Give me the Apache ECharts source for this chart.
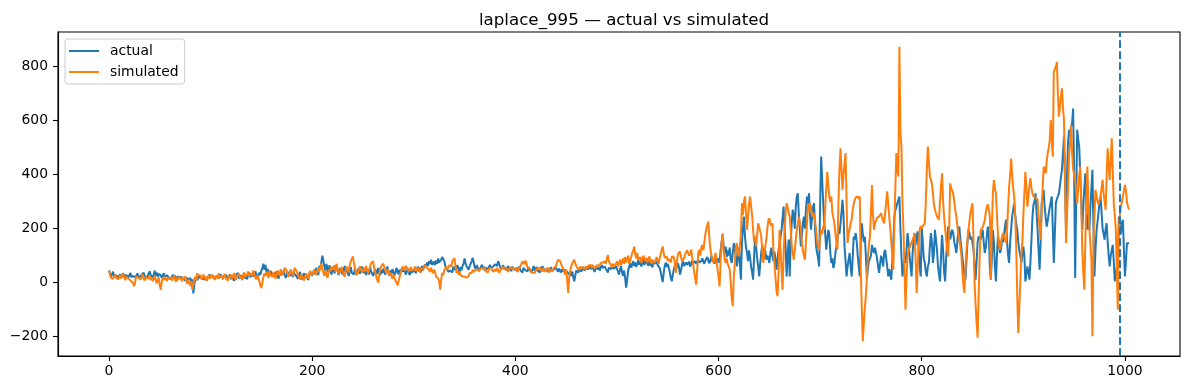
<!DOCTYPE html>
<html>
<head>
<meta charset="utf-8">
<script src="https://cdn.jsdelivr.net/npm/echarts@6/dist/echarts.min.js"></script>
<style>html,body{margin:0;padding:0;background:#fff}#c{width:1189px;height:390px}</style>
</head>
<body>
<div id="c"></div>
<script>
const titleText = "laplace_995 \u2014 actual vs simulated";
const seriesNames = ["actual", "simulated"];
const xTicks = [0, 200, 400, 600, 800, 1000];
const yTicks = [-200, 0, 200, 400, 600, 800];
const cutoff = 995;

const actual = [
45,38,22,30,41,25,18,27,33,20,
24,31,19,26,35,22,17,29,24,18,
27,36,21,15,25,30,19,23,34,28,
16,22,29,24,37,26,18,12,25,31,
42,28,35,20,30,44,26,38,22,33,
40,27,18,24,35,21,16,28,23,19,
25,14,22,30,17,26,20,11,24,19,
15,23,28,12,20,6,18,24,13,9,
17,4,12,-40,-5,15,22,10,28,18,
14,20,26,11,19,25,8,17,23,30,
21,15,26,33,18,12,24,29,16,22,
31,19,14,25,20,28,35,17,23,30,
13,26,21,7,18,29,24,36,15,20,
27,10,22,33,19,25,14,30,38,21,
17,28,35,23,42,30,18,26,37,29,
45,55,70,48,66,40,52,35,28,44,
38,25,33,20,30,42,24,15,36,28,
22,35,45,30,18,27,40,33,24,48,
30,21,38,45,26,32,15,28,40,22,
12,26,35,18,30,24,10,28,42,33,
25,38,46,30,55,40,28,62,48,75,
100,82,60,45,70,52,38,65,44,30,
48,58,35,42,60,50,28,45,55,38,
30,47,62,40,52,35,25,44,58,36,
42,30,50,38,28,46,55,33,40,60,
45,35,52,28,40,48,30,56,42,36,
25,38,50,44,32,55,40,28,46,35,
52,42,30,48,60,38,26,45,33,50,
40,28,36,55,44,30,48,38,52,42,
35,46,30,42,50,38,28,44,36,48,
40,52,35,48,60,42,55,38,62,45,
50,68,58,75,62,80,70,85,66,72,
78,65,82,70,90,75,68,85,95,100,
80,62,55,48,40,35,45,52,38,60,
48,42,55,65,50,40,58,46,62,70,
90,72,60,55,48,62,70,80,92,75,
58,50,65,55,62,48,58,66,52,60,
45,55,62,50,58,66,52,48,60,55,
68,75,62,80,70,58,48,55,65,50,
58,45,52,62,48,56,42,60,50,55,
48,56,40,52,60,45,50,38,55,62,
46,52,42,58,48,55,40,50,62,45,
52,58,44,50,38,55,48,60,42,50,
56,45,52,40,48,58,42,36,50,44,
55,48,40,52,45,38,50,42,35,48,
55,40,45,30,38,25,42,20,5,28,
45,52,38,48,55,42,50,58,44,52,
60,48,55,62,50,45,58,52,40,55,
62,50,58,45,52,66,55,48,60,52,
45,38,55,62,50,58,65,52,48,60,
55,42,30,48,62,38,25,45,20,-18,
10,45,60,72,55,68,80,62,75,58,
70,85,66,78,60,72,88,65,75,92,
70,62,80,68,75,58,82,70,64,78,
66,72,55,40,20,2,35,62,75,58,
70,55,40,18,5,30,50,65,48,60,
72,58,30,45,68,80,62,55,75,66,
70,78,60,68,82,72,65,80,70,74,
85,75,68,80,90,78,70,82,88,95,
80,72,85,100,78,88,70,82,92,76,
90,73,120,150,177,140,110,134,95,120,
100,130,85,73,110,147,125,100,60,90,
130,70,11,150,200,245,171,130,110,80,
120,95,60,40,11,100,171,130,90,60,
23,70,110,140,110,95,120,85,100,90,
73,110,130,100,80,115,90,48,80,120,
140,170,196,240,282,200,130,23,100,160,
23,150,220,270,250,200,280,319,331,250,
196,134,180,220,245,200,270,319,290,331,
250,196,240,280,294,200,134,110,90,60,
300,467,380,294,220,180,122,160,196,180,
110,73,90,54,70,110,134,160,196,180,
220,260,307,250,134,80,23,60,85,110,
60,23,90,171,160,184,150,100,60,23,
150,220,180,150,171,100,17,50,80,73,
100,140,122,110,130,134,90,60,36,70,
100,85,60,110,122,90,60,23,50,30,
11,80,150,245,270,280,294,300,319,200,
100,23,50,90,73,120,184,150,100,60,
23,110,160,184,140,171,190,120,60,23,
202,150,90,73,40,23,60,73,134,184,
150,73,110,196,160,122,60,30,5,100,
176,120,40,5,90,150,208,196,160,180,
196,184,150,134,110,150,190,208,160,130,
97,60,30,11,80,150,196,180,160,171,
171,120,60,11,80,150,171,171,160,180,
196,150,110,130,170,208,180,60,11,90,
196,150,60,5,100,171,150,110,122,160,
150,180,210,233,150,100,73,150,200,245,
270,294,250,220,196,150,120,100,73,100,
134,100,5,30,60,40,11,80,160,245,
290,300,331,260,196,120,48,150,294,320,
344,280,240,208,230,257,280,300,319,200,
73,180,294,310,320,331,360,390,418,480,
541,380,196,400,520,566,540,580,590,645,
400,17,300,566,530,504,400,300,196,280,
350,405,300,196,250,196,280,350,418,200,
23,120,190,196,260,300,319,260,200,180,
159,200,220,150,100,60,100,120,140,80,
5,30,60,73,245,200,180,220,233,120,
23,80,146,140,146
];

const simulated = [
45,30,18,25,14,22,30,19,26,12,
20,28,16,24,33,18,10,22,27,15,
21,8,14,2,-5,-13,10,24,30,18,
25,12,20,32,16,8,22,28,14,19,
26,10,18,5,15,24,12,-3,8,20,
-10,-26,5,18,10,22,14,6,19,25,
12,20,8,16,26,14,3,18,10,22,
28,15,5,20,12,24,8,-5,10,2,
-12,6,-26,-8,14,22,10,35,25,18,
28,12,20,30,15,24,8,18,26,14,
22,30,16,25,10,20,28,14,35,22,
18,26,12,24,32,15,22,8,28,20,
30,14,24,36,18,10,26,20,32,16,
24,12,28,38,22,15,30,42,25,18,
34,26,45,30,20,12,28,16,5,-10,
-20,0,22,35,25,40,30,18,45,28,
35,22,40,30,15,28,45,38,25,50,
36,28,42,55,60,45,30,22,38,48,
35,25,42,55,62,40,28,20,12,30,
25,18,8,22,35,28,15,30,44,26,
20,35,50,38,28,42,55,40,60,70,
52,38,25,45,30,18,35,50,42,60,
48,55,65,40,70,52,35,28,45,58,
40,30,22,45,60,50,38,65,80,88,
97,75,55,40,30,23,45,60,52,38,
45,55,40,62,50,35,48,60,72,79,
80,55,40,25,10,0,30,50,62,55,
70,58,45,35,50,42,30,38,25,15,
30,18,8,0,-10,5,20,35,48,60,
55,45,62,60,52,40,48,58,45,52,
48,60,42,35,55,48,38,52,45,48,
58,66,73,55,62,48,40,55,48,35,
48,40,23,30,15,5,-26,12,36,28,
45,52,60,48,55,65,72,60,80,85,
91,65,36,45,30,40,28,35,23,18,
23,30,18,11,25,36,42,36,48,40,
45,48,55,50,42,48,54,48,52,45,
55,42,48,38,52,45,55,48,40,45,
50,42,55,48,36,44,52,46,58,50,
45,55,48,40,52,46,58,50,44,52,
45,52,40,48,54,62,70,79,75,68,
82,70,55,48,52,40,45,38,42,36,
44,52,48,55,60,50,42,55,48,40,
48,42,55,38,45,50,40,42,55,48,
62,75,85,91,80,73,60,52,48,30,
48,10,-38,20,45,60,72,78,85,70,
62,55,48,54,60,52,45,58,48,55,
60,52,64,58,66,55,66,60,52,58,
65,70,62,60,72,68,75,80,79,70,
88,103,80,72,65,58,70,62,55,68,
80,60,72,85,65,78,90,70,95,75,
88,100,70,82,95,110,120,134,105,90,
110,85,78,95,73,88,100,97,80,92,
75,88,97,80,70,85,92,73,82,95,
85,70,90,105,120,134,110,92,85,97,
80,88,85,75,97,90,95,70,36,80,
105,100,116,95,80,73,90,105,110,120,
116,100,110,122,95,70,40,15,-7,50,
110,122,100,130,140,120,147,180,200,215,
226,160,122,100,85,73,90,110,80,48,
20,-14,80,150,183,120,85,73,90,70,
60,48,0,-60,-87,20,73,134,147,110,
97,97,180,294,250,300,319,260,196,240,
290,319,319,250,196,150,171,134,180,220,
220,190,171,120,73,100,134,160,200,230,
239,220,210,220,120,73,20,-30,-50,30,
196,120,48,-26,100,196,260,294,280,260,
245,200,134,110,85,120,160,196,220,245,
245,200,147,120,100,85,150,220,294,260,
294,280,245,260,250,245,200,150,130,122,
170,196,180,210,196,280,350,411,360,319,
300,319,260,240,220,180,150,122,300,420,
498,420,344,400,440,480,300,147,180,200,
220,233,270,290,307,315,319,320,310,319,
48,-100,-217,-150,-90,-50,20,97,140,171,
260,362,250,196,220,230,240,233,245,250,
257,240,230,220,260,300,338,290,245,200,
150,100,48,200,350,480,420,393,874,560,
504,300,196,50,-100,20,97,120,130,140,
147,160,170,184,80,-38,60,140,196,210,
200,210,215,220,300,420,504,450,393,380,
368,330,290,270,257,245,240,233,300,360,
405,300,245,200,160,120,97,200,368,350,
340,331,300,270,245,210,180,160,134,100,
40,-10,-38,50,120,160,196,230,260,280,
294,150,0,-80,-150,-204,-50,100,196,200,
205,208,230,260,280,290,294,250,11,200,
330,380,350,331,250,180,140,122,150,170,
184,170,160,147,200,280,356,400,460,400,
350,319,250,134,-50,-186,-186,0,100,147,
250,330,411,350,282,320,360,387,350,330,
320,319,315,310,307,250,200,159,250,350,
430,420,405,450,480,500,529,602,520,467,
781,790,800,818,700,615,650,690,720,650,
602,400,147,250,350,467,520,584,480,420,
400,381,340,294,350,400,430,300,122,40,
-26,150,300,430,300,200,140,85,-198,147,
250,344,320,300,290,294,320,350,381,330,
300,270,400,498,440,381,450,535,420,294,
250,196,50,-100,196,250,280,300,319,340,
362,340,300,282,270
];

const allVals = actual.concat(simulated);
const dMax = Math.max.apply(null, allVals), dMin = Math.min.apply(null, allVals);
const yPad = (dMax - dMin) * 0.05;
const nLast = Math.max(actual.length, simulated.length) - 1;
const xPad = nLast * 0.05;

const FONT = "DejaVu Sans";
const chart = echarts.init(document.getElementById('c'), null, {renderer: 'canvas'});
const minusFmt = v => String(v).replace('-', '\u2212');

chart.setOption({
  animation: false,
  backgroundColor: '#fff',
  title: {
    text: titleText, left: 619, top: 7, textAlign: 'center',
    textStyle: {fontFamily: FONT, fontSize: 16.7, fontWeight: 'normal', color: '#000'}
  },
  legend: {
    data: seriesNames.map(n => ({name: n, icon: 'rect'})),
    orient: 'vertical', left: 65, top: 39,
    itemWidth: 30, itemHeight: 2, itemGap: 7,
    padding: [5, 6, 5, 4],
    backgroundColor: 'rgba(255,255,255,0.8)', borderColor: '#cccccc', borderWidth: 1, borderRadius: 3,
    formatter: n => '{s|}' + n,
    textStyle: {fontFamily: FONT, fontSize: 13.9, color: '#000', lineHeight: 14,
      rich: {s: {width: 6}}}
  },
  grid: {left: 58, top: 32, width: 1122, height: 324, show: true, borderColor: '#000', borderWidth: 1.1, backgroundColor: 'transparent'},
  xAxis: {
    type: 'value', min: -xPad, max: nLast + xPad,
    axisLine: {show: true, onZero: false, lineStyle: {color: '#000', width: 1.1}},
    axisTick: {show: true, inside: false, length: 5, lineStyle: {color: '#000', width: 1.1}, customValues: xTicks},
    axisLabel: {color: '#000', fontFamily: FONT, fontSize: 13.9, margin: 8, customValues: xTicks, formatter: minusFmt},
    splitLine: {show: false}
  },
  yAxis: {
    type: 'value', min: dMin - yPad, max: dMax + yPad,
    axisLine: {show: true, onZero: false, lineStyle: {color: '#000', width: 1.1}},
    axisTick: {show: true, inside: false, length: 5, lineStyle: {color: '#000', width: 1.1}, customValues: yTicks},
    axisLabel: {color: '#000', fontFamily: FONT, fontSize: 13.9, margin: 10, customValues: yTicks, formatter: minusFmt},
    splitLine: {show: false}
  },
  series: [
    {
      name: seriesNames[0], type: 'line', showSymbol: false, symbol: 'none',
      data: actual.map((v, i) => [i, v]),
      lineStyle: {color: '#1f77b4', width: 2}, itemStyle: {color: '#1f77b4'},
      markLine: {
        silent: true, symbol: ['none', 'none'], label: {show: false},
        lineStyle: {color: '#1f77b4', type: [7.7, 3.3], width: 2},
        data: [{xAxis: cutoff}]
      },
      z: 2
    },
    {
      name: seriesNames[1], type: 'line', showSymbol: false, symbol: 'none',
      data: simulated.map((v, i) => [i, v]),
      lineStyle: {color: '#ff7f0e', width: 2}, itemStyle: {color: '#ff7f0e'},
      z: 3
    }
  ]
});
</script>
</body>
</html>
